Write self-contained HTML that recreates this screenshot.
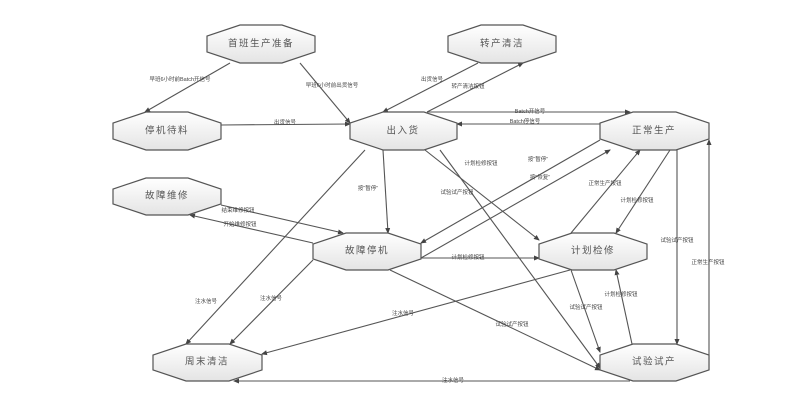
<!DOCTYPE html>
<html><head><meta charset="utf-8"><style>
html,body{margin:0;padding:0;background:#fff;}
svg{display:block;}
text{font-family:"Liberation Sans","Noto Sans CJK SC",sans-serif;fill:#444;}
.n{font-size:9.5px;text-anchor:middle;dominant-baseline:central;letter-spacing:1.5px;fill:#555;}
.l{font-size:5.5px;text-anchor:middle;dominant-baseline:central;}
line{stroke:#555;stroke-width:1.1;}
</style></head><body>
<svg width="794" height="408" viewBox="0 0 794 408" xmlns="http://www.w3.org/2000/svg">
<defs>
<linearGradient id="g" x1="0" y1="0" x2="0" y2="1"><stop offset="0" stop-color="#fff"/><stop offset="1" stop-color="#e4e4e4"/></linearGradient>
<marker id="a" markerWidth="6" markerHeight="6" refX="5" refY="3" orient="auto" markerUnits="userSpaceOnUse"><path d="M0,0.5 L6,3 L0,5.5z" fill="#444"/></marker>
</defs>
<g marker-end="url(#a)">
<line x1="230" y1="63" x2="145" y2="112"/>
<line x1="300" y1="63" x2="350" y2="123"/>
<line x1="221" y1="125" x2="350" y2="124"/>
<line x1="478" y1="63" x2="383" y2="112"/>
<line x1="427" y1="112" x2="523" y2="63"/>
<line x1="427" y1="112" x2="630" y2="112"/>
<line x1="600" y1="124" x2="457" y2="124"/>
<line x1="383" y1="150" x2="388" y2="233"/>
<line x1="365" y1="150" x2="186" y2="344"/>
<line x1="313" y1="260" x2="230" y2="344"/>
<line x1="425" y1="150" x2="539" y2="240"/>
<line x1="440" y1="150" x2="600" y2="368"/>
<line x1="600" y1="140" x2="421" y2="243"/>
<line x1="421" y1="258" x2="610" y2="150"/>
<line x1="221" y1="205" x2="343" y2="233"/>
<line x1="313" y1="243" x2="190" y2="215"/>
<line x1="421" y1="258" x2="539" y2="258"/>
<line x1="390" y1="270" x2="600" y2="370"/>
<line x1="570" y1="270" x2="262" y2="354"/>
<line x1="571" y1="270" x2="600" y2="352"/>
<line x1="632" y1="344" x2="616" y2="270"/>
<line x1="571" y1="233" x2="640" y2="150"/>
<line x1="670" y1="150" x2="616" y2="233"/>
<line x1="677" y1="150" x2="677" y2="344"/>
<line x1="709" y1="370" x2="709" y2="140"/>
<line x1="630" y1="381" x2="234" y2="381"/>
</g>
<g fill="url(#g)" stroke="#555" stroke-width="1.2">
<polygon points="240,25 282,25 315,36 315,52 282,63 240,63 207,52 207,36"/>
<polygon points="146,112 188,112 221,123 221,139 188,150 146,150 113,139 113,123"/>
<polygon points="383,112 424,112 457,123 457,139 424,150 383,150 350,139 350,123"/>
<polygon points="481,25 523,25 556,36 556,52 523,63 481,63 448,52 448,36"/>
<polygon points="633,112 676,112 709,123 709,139 676,150 633,150 600,139 600,123"/>
<polygon points="146,178 188,178 221,189 221,204 188,215 146,215 113,204 113,189"/>
<polygon points="346,233 388,233 421,244 421,259 388,270 346,270 313,259 313,244"/>
<polygon points="572,233 614,233 647,244 647,259 614,270 572,270 539,259 539,244"/>
<polygon points="186,344 229,344 262,355 262,370 229,381 186,381 153,370 153,355"/>
<polygon points="633,344 676,344 709,355 709,370 676,381 633,381 600,370 600,355"/>
</g>
<text class="n" x="261" y="44">首班生产准备</text>
<text class="n" x="167" y="131">停机待料</text>
<text class="n" x="403" y="131">出入货</text>
<text class="n" x="502" y="44">转产清洁</text>
<text class="n" x="654" y="131">正常生产</text>
<text class="n" x="167" y="196">故障维修</text>
<text class="n" x="367" y="251">故障停机</text>
<text class="n" x="593" y="251">计划检修</text>
<text class="n" x="207" y="362">周末清洁</text>
<text class="n" x="654" y="362">试验试产</text>
<g class="l">
<text x="180" y="80">早班6小时前Batch开信号</text>
<text x="332" y="86">早班6小时前出货信号</text>
<text x="285" y="123">出货信号</text>
<text x="432" y="80">出货信号</text>
<text x="468" y="87">转产清洁按钮</text>
<text x="530" y="112">Batch开信号</text>
<text x="525" y="122">Batch停信号</text>
<text x="368" y="189">按“暂停”</text>
<text x="206" y="302">注水信号</text>
<text x="271" y="299">注水信号</text>
<text x="481" y="164">计划检修按钮</text>
<text x="457" y="193">试验试产按钮</text>
<text x="538" y="160">按“暂停”</text>
<text x="540" y="178">按“恢复”</text>
<text x="238" y="211">结束维修按钮</text>
<text x="240" y="225">开始维修按钮</text>
<text x="468" y="258">计划检修按钮</text>
<text x="512" y="325">试验试产按钮</text>
<text x="403" y="314">注水信号</text>
<text x="586" y="308">试验试产按钮</text>
<text x="621" y="295">计划检修按钮</text>
<text x="605" y="184">正常生产按钮</text>
<text x="637" y="201">计划检修按钮</text>
<text x="677" y="241">试验试产按钮</text>
<text x="708" y="263">正常生产按钮</text>
<text x="453" y="381">注水信号</text>
</g>
</svg>
</body></html>
